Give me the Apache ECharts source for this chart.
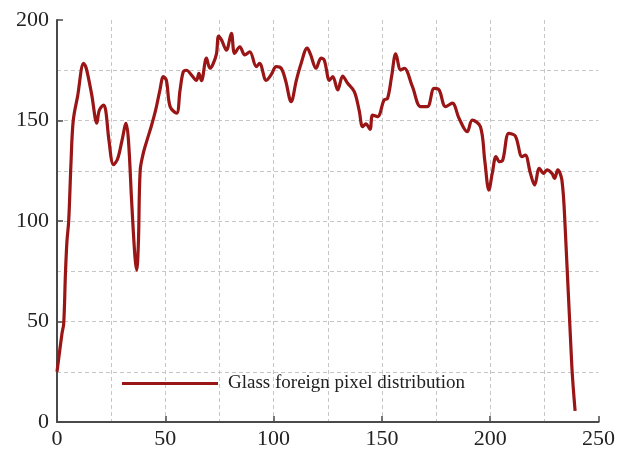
<!DOCTYPE html>
<html>
<head>
<meta charset="utf-8">
<script src="https://cdn.jsdelivr.net/npm/echarts@6/dist/echarts.min.js"></script>
<style>
  html, body { margin: 0; padding: 0; background: #fff; }
  #chart { width: 618px; height: 454px; }
</style>
</head>
<body>
<div id="chart"></div>
<script>
// Gray-level position (x) and pixel count (y) of the foreign-object profile
const xValues = [
  0, 2.3, 3.1, 3.9, 4.6, 5.4, 6.5, 7.5, 9.5, 12.3, 13.5, 16, 18.4, 19.5, 21.5, 22.5,
  24, 26.1, 28, 30, 31.9, 33, 34.5, 36, 36.8, 37.6, 38.4, 39.9, 41.5, 43.5, 45.5, 47.5,
  49.1, 50.5, 52.2, 55.2, 56.8, 58.3, 59.8, 62.1, 64.4, 65.5, 66.7, 69, 70.6, 72, 73.6, 74.6,
  76, 78.2, 80.5, 82, 84.4, 86.7, 89, 92, 93.5, 96.6, 99, 101.2, 103.5, 105.5, 108.1, 110.5,
  112.7, 115.5, 117, 119.6, 121.9, 123.4, 125.8, 127.3, 129.6, 131.9, 134.2, 137.3, 139.5, 141.1, 142.6, 144.5,
  145.7, 148, 151, 152.6, 154.5, 156.4, 158.7, 160.3, 164.1, 167.9, 171, 174.1, 176.4, 179.4, 182.5, 185.6,
  189.4, 191.7, 195.5, 197.5, 199.4, 201, 202.7, 204.3, 205.8, 208.6, 211.6, 214.7, 216.2, 218.5, 220.5, 222.7,
  224.7, 226.2, 228.5, 229.7, 231.2, 233.1, 234.6, 237.7, 239.2
];
const yValues = [
  25, 44, 49, 74, 90, 100, 130, 150, 162, 178.4, 176, 163, 148.7, 155, 157.7, 155,
  140, 128, 131, 140, 148.6, 140, 109, 82, 75.6, 90, 125, 134, 140, 147, 155, 165,
  171.8, 170, 157, 153.6, 165, 174.3, 175, 172.6, 170, 173.5, 169.8, 181, 176, 178, 183, 192,
  190, 185, 193.4, 183.4, 186.7, 182.6, 184.2, 176.8, 178.4, 170, 173, 176.8, 176, 170, 159.4, 170,
  178.4, 186, 183, 176, 181, 180, 170, 171.8, 165.2, 172.1, 168.5, 164.3, 155, 146.9, 148.3, 145.6,
  152.7, 151.9, 160.2, 161, 172, 183.1, 175.1, 176, 166.8, 156.9, 156.9, 166, 165.2, 156.9, 158.6, 151.1,
  144.4, 150.2, 146.9, 130, 115.4, 124, 132, 129.5, 130.3, 143.6, 142.3, 132, 132.8, 124, 117.9, 126.2,
  123.7, 125.4, 123.7, 121.2, 125.4, 120.4, 97, 27.5, 5.5
];
const seriesName = 'Glass foreign pixel distribution';
const xTicks = { min: 0, max: 250, step: 50 };
const yTicks = { min: 0, max: 200, step: 50 };

const points = xValues.map((x, i) => [x, yValues[i]]);

const serif = "'Liberation Serif', 'Times New Roman', 'DejaVu Serif', serif";
const axisColor = '#4a4a4a';
const lineColor = '#9a1515';
const gridLine = { show: true, lineStyle: { color: '#c6c6c6', width: 1, type: [4, 3] } };

const chart = echarts.init(document.getElementById('chart'), null, { renderer: 'canvas' });
chart.setOption({
  animation: false,
  backgroundColor: '#fff',
  grid: { left: 57, right: 18, top: 20, bottom: 32 },
  legend: {
    left: 117,
    top: 369,
    icon: 'rect',
    itemWidth: 96,
    itemHeight: 3,
    textStyle: { fontFamily: serif, fontSize: 19, color: '#222', padding: [0, 0, 0, 5] },
    data: [seriesName]
  },
  xAxis: {
    type: 'value',
    min: xTicks.min, max: xTicks.max, interval: xTicks.step,
    axisLine: { show: true, onZero: false, lineStyle: { color: axisColor, width: 2 } },
    axisTick: { show: true, inside: true, length: 6, lineStyle: { color: axisColor, width: 1.5 } },
    axisLabel: { fontFamily: serif, fontSize: 22, color: '#222', margin: 6 },
    splitLine: Object.assign({ showMinLine: false, showMaxLine: false }, gridLine),
    minorTick: { show: false, splitNumber: 2 },
    minorSplitLine: gridLine
  },
  yAxis: {
    type: 'value',
    min: yTicks.min, max: yTicks.max, interval: yTicks.step,
    axisLine: { show: true, onZero: false, lineStyle: { color: axisColor, width: 2 } },
    axisTick: { show: true, inside: true, length: 6, lineStyle: { color: axisColor, width: 1.5 } },
    axisLabel: { fontFamily: serif, fontSize: 22, color: '#222', margin: 8 },
    splitLine: Object.assign({ showMinLine: false, showMaxLine: false }, gridLine),
    minorTick: { show: false, splitNumber: 2 },
    minorSplitLine: gridLine
  },
  series: [{
    name: seriesName,
    type: 'line',
    data: points,
    smooth: 0.35,
    showSymbol: false,
    symbol: 'none',
    itemStyle: { color: lineColor },
    lineStyle: { color: lineColor, width: 3.2 }
  }]
});
</script>
</body>
</html>
